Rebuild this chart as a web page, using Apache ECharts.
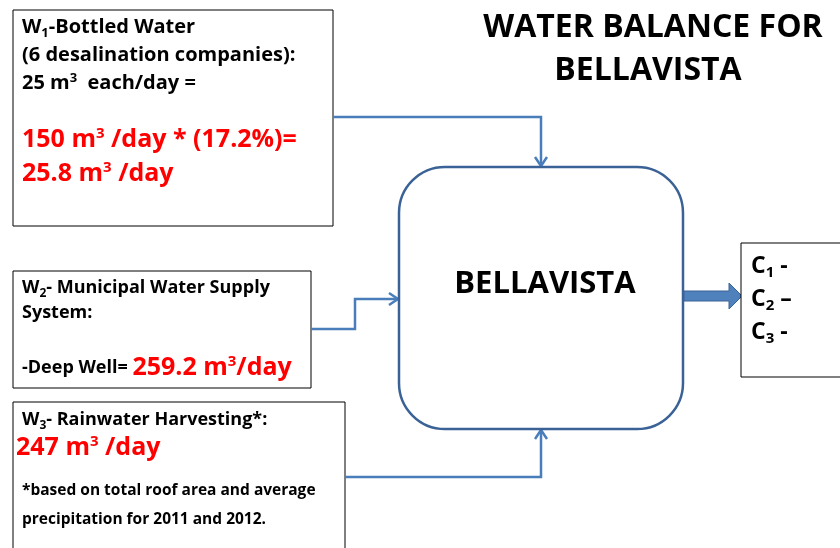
<!DOCTYPE html>
<html>
<head>
<meta charset="utf-8">
<script src="https://cdn.jsdelivr.net/npm/echarts@6/dist/echarts.min.js"></script>
<style>
html, body { margin: 0; padding: 0; background: #fff; }
#myChart { width: 840px; height: 548px; }
</style>
</head>
<body>
<div id="myChart"></div>
<script>
// 数据
const titleLines = ['WATER BALANCE FOR', 'BELLAVISTA'];
const centerName = 'BELLAVISTA';
const bottledCompanies = 6;
const bottledEach = 25;          // m3 each/day
const bottledTotal = 150;        // m3/day
const bottledShare = 17.2;       // %
const inflowValues = [25.8, 259.2, 247];   // W1, W2, W3 (m3/day)
const consumerIds = ['1', '2', '3'];
const consumerDash = ['-', '\u2013', '-'];

const F = '"Open Sans", Lato, sans-serif';
const lineBlue = '#4a7ebb';
const darkBlue = '#3a6296';

let myChart = echarts.init(document.getElementById('myChart'));

const rich = {
    b: { fontSize: 20, fontWeight: 'bold', fill: '#000', fontFamily: F },
    bsub: { fontSize: 13, fontWeight: 'bold', fill: '#000', fontFamily: F, padding: [13, 0, 0, 0] },
    bsup: { fontSize: 13, fontWeight: 'bold', fill: '#000', fontFamily: F, padding: [0, 0, 10, 0] },
    s: { fontSize: 18, fontWeight: 'bold', fill: '#000', fontFamily: F },
    ssub: { fontSize: 12, fontWeight: 'bold', fill: '#000', fontFamily: F, padding: [12, 0, 0, 0] },
    r: { fontSize: 25, fontWeight: 'bold', fill: '#ff0000', fontFamily: F },
    rsup: { fontSize: 15, fontWeight: 'bold', fill: '#ff0000', fontFamily: F, padding: [0, 0, 12, 0] },
    c: { fontSize: 23, fontWeight: 'bold', fill: '#000', fontFamily: F },
    csub: { fontSize: 15, fontWeight: 'bold', fill: '#000', fontFamily: F, padding: [13, 0, 0, 0] }
};

function txt(x, y, text, align) {
    return {
        type: 'text',
        style: { x: x, y: y, text: text, rich: rich, align: align || 'left', verticalAlign: 'middle' }
    };
}

function box(x, y, w, h) {
    return {
        type: 'rect',
        shape: { x: x, y: y, width: w, height: h },
        style: { fill: '#fff', stroke: '#000', lineWidth: 1 }
    };
}

function wire(points) {
    return {
        type: 'polyline',
        shape: { points: points },
        style: { stroke: lineBlue, lineWidth: 2.5, fill: null }
    };
}

function head(x, y, dir) {
    // 开口箭头
    let pts;
    if (dir === 'down') pts = [[x - 6, y - 9], [x, y], [x + 6, y - 9]];
    else if (dir === 'up') pts = [[x - 6, y + 9], [x, y], [x + 6, y + 9]];
    else pts = [[x - 9, y - 6], [x, y], [x - 9, y + 6]];
    return {
        type: 'polyline',
        shape: { points: pts },
        style: { stroke: lineBlue, lineWidth: 2.5, fill: null }
    };
}

let elements = [];

// 标题
elements.push({
    type: 'text',
    style: { x: 653, y: 28, text: titleLines[0], font: 'bold 32px ' + F, fill: '#000', align: 'center', verticalAlign: 'middle' }
});
elements.push({
    type: 'text',
    style: { x: 648, y: 71, text: titleLines[1], font: 'bold 32px ' + F, fill: '#000', align: 'center', verticalAlign: 'middle' }
});

// W1
elements.push(box(13, 10, 320, 216));
elements.push(txt(22, 27, '{b|W}{bsub|1}{b|-Bottled Water}'));
elements.push(txt(22, 55, '{b|(' + bottledCompanies + ' desalination companies):}'));
elements.push(txt(22, 83, '{b|' + bottledEach + ' m}{bsup|3}{b|  each/day =}'));
elements.push(txt(22, 140, '{r|' + bottledTotal + ' m}{rsup|3}{r| /day * (' + bottledShare + '%)=}'));
elements.push(txt(22, 174, '{r|' + inflowValues[0] + ' m}{rsup|3}{r| /day}'));

// W2
elements.push(box(13, 271, 298, 117));
elements.push(txt(22, 288, '{s|W}{ssub|2}{s|- Municipal Water Supply}'));
elements.push(txt(22, 313, '{s|System:}'));
elements.push(txt(22, 368, '{s|-Deep Well= }{r|' + inflowValues[1] + ' m}{rsup|3}{r|/day}'));

// W3
elements.push(box(13, 402, 332, 160));
elements.push(txt(22, 420, '{s|W}{ssub|3}{s|- Rainwater Harvesting*:}'));
elements.push(txt(16, 448, '{r|' + inflowValues[2] + ' m}{rsup|3}{r| /day}'));
elements.push({
    type: 'text',
    style: { x: 22, y: 491, text: '*based on total roof area and average', font: 'bold 15.5px ' + F, fill: '#000', verticalAlign: 'middle' }
});
elements.push({
    type: 'text',
    style: { x: 22, y: 520, text: 'precipitation for 2011 and 2012.', font: 'bold 15.5px ' + F, fill: '#000', verticalAlign: 'middle' }
});

// 连接线
elements.push(wire([[333, 117], [541, 117], [541, 166]]));
elements.push(head(541, 166, 'down'));
elements.push(wire([[311, 329], [355, 329], [355, 299], [398, 299]]));
elements.push(head(398, 299, 'right'));
elements.push(wire([[345, 477], [541, 477], [541, 430]]));
elements.push(head(541, 430, 'up'));

// 中心框
elements.push({
    type: 'rect',
    shape: { x: 399, y: 167, width: 284, height: 262, r: 46 },
    style: { fill: '#fff', stroke: darkBlue, lineWidth: 2.5 }
});
elements.push({
    type: 'text',
    style: { x: 545, y: 284, text: centerName, font: 'bold 31px ' + F, fill: '#000', align: 'center', verticalAlign: 'middle' }
});

// 输出箭头
elements.push({
    type: 'polygon',
    shape: { points: [[684, 291], [729, 291], [729, 283], [742, 296], [729, 309], [729, 301], [684, 301]] },
    style: { fill: '#4f81bd', stroke: darkBlue, lineWidth: 1 }
});

// C 框
elements.push(box(741, 243, 110, 134));
consumerIds.forEach(function (id, i) {
    elements.push(txt(751, 266 + i * 33, '{c|C}{csub|' + id + '}{c| ' + consumerDash[i] + '}'));
});

let option = {
    backgroundColor: '#fff',
    graphic: { elements: elements }
};
myChart.setOption(option);

window.addEventListener('resize', () => {
    myChart.resize();
});
</script>
</body>
</html>
